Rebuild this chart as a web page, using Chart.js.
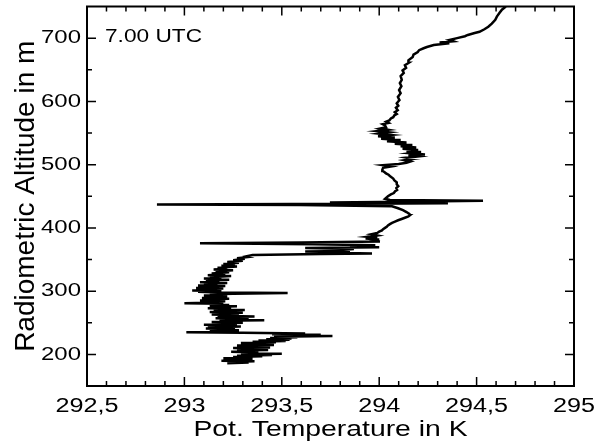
<!DOCTYPE html>
<html>
<head>
<meta charset="utf-8">
<script src="https://cdn.jsdelivr.net/npm/chart.js@4/dist/chart.umd.min.js"></script>
<style>
  html, body { margin: 0; padding: 0; background: #fff; }
  #wrap { width: 603px; height: 443px; position: relative; }
</style>
</head>
<body>
<div id="wrap"><canvas id="c"></canvas></div>
<script>
// Profile: radiometric altitude (m) and potential temperature (K), ascending order
const altitude = [
  186, 187, 188, 189, 190, 191, 192, 193, 194, 195,
  196, 197, 198, 199, 200, 201, 202, 203, 204, 205,
  206, 207, 208, 209, 210, 211, 212, 213, 214, 215,
  216, 217, 218, 219, 220, 221, 222, 223, 224, 225,
  226, 227, 228, 229, 230, 231, 232, 233, 234, 235,
  236, 237, 238, 239, 240, 241, 242, 243, 244, 245,
  246, 247, 248, 249, 250, 251, 252, 253, 254, 255,
  256, 257, 258, 259, 260, 261, 262, 263, 264, 265,
  266, 267, 268, 269, 270, 271, 272, 273, 274, 275,
  276, 277, 278, 279, 280, 281, 282, 283, 284, 285,
  286, 287, 288, 289, 290, 291, 292, 293, 294, 295,
  296, 297, 298, 299, 300, 301, 302, 303, 304, 305,
  306, 307, 308, 309, 310, 312, 313, 314, 316, 317,
  318, 320, 321, 322, 324, 325, 327, 328, 330, 331,
  333, 334, 336, 337, 339, 340, 342, 343, 345, 346,
  348, 349, 351, 352, 354, 355, 357, 358.5, 359.5, 360.5,
  361.5, 362.5, 363.5, 365, 366.5, 368, 369.5, 371, 372.5, 374,
  375.5, 377, 378.5, 380, 381.5, 383, 384.5, 386, 388, 390,
  392, 394, 396, 398, 400, 402, 404, 406, 408, 410,
  412, 414, 416, 418, 420, 422, 425, 428, 431, 434,
  436, 437, 438, 439, 440, 441, 443, 444, 446, 450,
  453, 455, 458, 460, 463, 466, 469, 472, 475, 478,
  481, 484, 486, 488, 490, 492, 495, 497, 499, 501,
  503, 505, 507, 509, 511, 513, 515, 516, 518, 520,
  521, 523, 525, 527, 529, 531, 533, 535, 537, 539,
  541, 543, 545, 547, 549, 551, 553, 555, 557, 559,
  562, 564, 566, 568, 570, 573, 575, 578, 580, 583,
  586, 590, 593, 597, 602, 607, 613, 618, 624, 629,
  634, 640, 645, 649, 653, 657, 661, 665, 670, 674,
  678, 681, 684, 686, 689, 692, 693, 695, 697, 700,
  703, 705, 708, 710, 714, 718, 723, 729, 734, 740,
  745, 750
];
const potTemp = [
  293.22, 293.33, 293.24, 293.36, 293.19, 293.30, 293.23, 293.35, 293.20, 293.31,
  293.25, 293.40, 293.27, 293.45, 293.29, 293.50, 293.30, 293.38, 293.24, 293.36,
  293.27, 293.43, 293.30, 293.39, 293.25, 293.44, 293.31, 293.41, 293.27, 293.46,
  293.33, 293.40, 293.29, 293.47, 293.35, 293.52, 293.38, 293.54, 293.42, 293.55,
  293.44, 293.58, 293.46, 293.76, 293.50, 293.70, 293.45, 293.62, 293.30, 293.01,
  293.25, 293.17, 293.28, 293.13, 293.24, 293.11, 293.26, 293.15, 293.29, 293.12,
  293.23, 293.10, 293.27, 293.16, 293.30, 293.14, 293.26, 293.18, 293.41, 293.20,
  293.33, 293.16, 293.30, 293.19, 293.36, 293.17, 293.28, 293.14, 293.27, 293.16,
  293.30, 293.13, 293.25, 293.17, 293.31, 293.15, 293.24, 293.12, 293.22, 293.16,
  293.27, 293.13, 293.23, 293.15, 293.20, 293.00, 293.18, 293.10, 293.21, 293.08,
  293.19, 293.12, 293.23, 293.09, 293.18, 293.11, 293.22, 293.10, 293.20, 293.13,
  293.25, 293.53, 293.17, 293.07, 293.19, 293.04, 293.15, 293.08, 293.20, 293.06,
  293.16, 293.09, 293.21, 293.07, 293.17, 293.10, 293.22, 293.08, 293.18, 293.11,
  293.23, 293.10, 293.19, 293.13, 293.24, 293.12, 293.21, 293.14, 293.23, 293.16,
  293.25, 293.15, 293.22, 293.17, 293.27, 293.19, 293.26, 293.20, 293.28, 293.22,
  293.30, 293.25, 293.31, 293.27, 293.33, 293.32, 293.35, 293.70, 293.963, 293.76,
  293.85, 293.62, 293.83, 293.80, 293.87, 293.62, 294.00, 293.85, 293.98, 293.66,
  293.08, 293.60, 294.004, 293.95, 294.00, 293.93, 293.99, 293.94, 293.99, 293.96,
  293.99, 294.00, 294.014, 294.020, 294.030, 294.040, 294.045, 294.055, 294.066, 294.081,
  294.097, 294.115, 294.132, 294.150, 294.158, 294.155, 294.140, 294.122, 294.097, 294.066,
  293.593, 292.859, 293.901, 294.353, 293.747, 294.004, 294.533, 294.055, 294.030, 294.045,
  294.060, 294.075, 294.082, 294.092, 294.088, 294.098, 294.090, 294.090, 294.078, 294.072,
  294.058, 294.048, 294.035, 294.028, 294.018, 294.016, 294.020, 294.060, 294.020, 294.100,
  294.140, 294.160, 294.130, 294.175, 294.140, 294.200, 294.150, 294.235, 294.160, 294.215,
  294.140, 294.200, 294.120, 294.190, 294.110, 294.170, 294.080, 294.140, 294.040, 294.110,
  294.010, 294.080, 293.994, 294.060, 294.000, 294.050, 293.990, 294.045, 294.005, 294.035,
  294.030, 294.018, 294.048, 294.036, 294.052, 294.060, 294.072, 294.078, 294.090, 294.080,
  294.095, 294.086, 294.098, 294.090, 294.104, 294.096, 294.110, 294.102, 294.114, 294.106,
  294.116, 294.110, 294.126, 294.120, 294.138, 294.132, 294.152, 294.150, 294.172, 294.176,
  294.198, 294.205, 294.228, 294.245, 294.280, 294.360, 294.310, 294.380, 294.360, 294.400,
  294.440, 294.455, 294.490, 294.515, 294.540, 294.560, 294.578, 294.596, 294.604, 294.618,
  294.630, 294.650
];

// Axis ticks
const tempTicks  = [292.5, 293, 293.5, 294, 294.5, 295];
const tempMinor  = [292.6, 292.7, 292.8, 292.9, 293.1, 293.2, 293.3, 293.4, 293.6, 293.7, 293.8, 293.9,
                    294.1, 294.2, 294.3, 294.4, 294.6, 294.7, 294.8, 294.9];
const altTicks   = [200, 300, 400, 500, 600, 700];
const altMinor   = [250, 350, 450, 550, 650];
const timeLabel  = '7.00 UTC';

const FONT = '"Liberation Sans", Arial, Helvetica, sans-serif';
Chart.defaults.font.family = FONT;
Chart.defaults.color = '#000';

const canvas = document.getElementById('c');
const ctx2d = canvas.getContext('2d');

// Wide lettering: horizontal text is drawn with a horizontal stretch about its anchor
const WIDE = 1.26;
const baseFillText = CanvasRenderingContext2D.prototype.fillText;
ctx2d.fillText = function (text, x, y, maxWidth) {
  const m = this.getTransform();
  if (Math.abs(m.b) < 1e-6 && Math.abs(m.c) < 1e-6) {
    this.save();
    this.translate(x, y);
    this.scale(WIDE, 1);
    baseFillText.call(this, text, 0, 0);
    this.restore();
  } else if (maxWidth !== undefined) {
    baseFillText.call(this, text, x, y, maxWidth);
  } else {
    baseFillText.call(this, text, x, y);
  }
};

// Boxed frame with inward ticks on all four sides, plus the time stamp
const frameAndTicks = {
  id: 'frameAndTicks',
  afterDraw(chart) {
    const { ctx, chartArea: a, scales: { x, y } } = chart;
    ctx.save();
    ctx.strokeStyle = '#000';
    ctx.lineWidth = 1.5;
    ctx.beginPath();
    const seg = (x1, y1, x2, y2) => { ctx.moveTo(x1, y1); ctx.lineTo(x2, y2); };
    const xt = (vals, len) => vals.forEach(v => {
      const px = x.getPixelForValue(v);
      seg(px, a.bottom, px, a.bottom - len);
      seg(px, a.top, px, a.top + len);
    });
    const yt = (vals, len) => vals.forEach(v => {
      const py = y.getPixelForValue(v);
      seg(a.left, py, a.left + len, py);
      seg(a.right, py, a.right - len, py);
    });
    xt(tempTicks, 9); xt(tempMinor, 5);
    yt(altTicks, 9); yt(altMinor, 5);
    ctx.stroke();
    ctx.lineWidth = 2;
    ctx.strokeRect(a.left, a.top, a.right - a.left, a.bottom - a.top);

    ctx.fillStyle = '#000';
    ctx.font = '18px ' + FONT;
    ctx.textAlign = 'left';
    ctx.textBaseline = 'alphabetic';
    ctx.fillText(timeLabel, a.left + 18, a.top + 35);
    ctx.restore();
  }
};

const points = altitude.map((h, i) => ({ x: potTemp[i], y: h }));

new Chart(ctx2d, {
  type: 'scatter',
  data: {
    datasets: [{
      data: points,
      showLine: true,
      borderColor: '#000',
      borderWidth: 2.5,
      pointRadius: 0,
      tension: 0,
      fill: false
    }]
  },
  options: {
    responsive: true,
    maintainAspectRatio: false,
    animation: false,
    events: [],
    layout: { padding: { top: 6.5, right: 29, left: 0, bottom: 0 } },
    plugins: { legend: { display: false }, tooltip: { enabled: false } },
    scales: {
      x: {
        type: 'linear',
        position: 'bottom',
        min: 292.5, max: 295,
        afterBuildTicks: s => { s.ticks = tempTicks.map(v => ({ value: v })); },
        afterFit: s => { s.height = 57; s.paddingLeft = 0; s.paddingRight = 0; },
        grid: { display: false, drawTicks: false },
        border: { display: false },
        ticks: {
          autoSkip: false, maxRotation: 0, padding: 8,
          font: { size: 20 },
          callback: v => String(Math.round(v * 10) / 10).replace('.', ',')
        },
        title: { display: true, text: 'Pot. Temperature in K', font: { size: 22.5 }, padding: { top: 0, bottom: 0 } }
      },
      y: {
        type: 'linear',
        position: 'left',
        min: 150, max: 750,
        afterBuildTicks: s => { s.ticks = altTicks.map(v => ({ value: v })); },
        afterFit: s => { s.width = 87; s.paddingTop = 0; s.paddingBottom = 0; },
        grid: { display: false, drawTicks: false },
        border: { display: false },
        ticks: { autoSkip: false, padding: 6, font: { size: 19 } },
        title: { display: true, text: 'Radiometric Altitude in m', font: { size: 28 }, padding: { top: 9, bottom: 0 } }
      }
    }
  },
  plugins: [frameAndTicks]
});
</script>
</body>
</html>
